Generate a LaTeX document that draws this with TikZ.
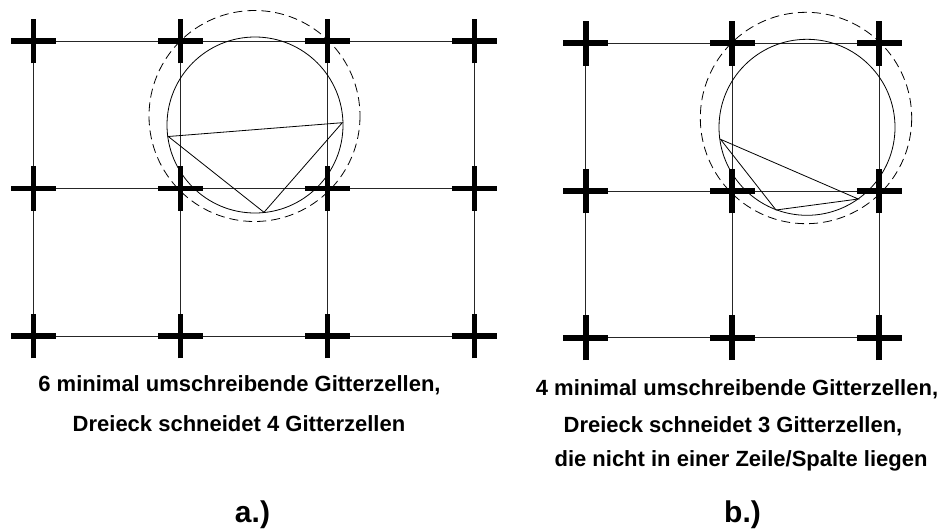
\documentclass[tikz,border=0pt]{standalone}
\usepackage{fontspec}
\setmainfont{Liberation Sans}
\begin{document}
\begin{tikzpicture}[x=1pt,y=-1pt,
  gridline/.style={line width=0.9pt,black!85},
  arm/.style={line width=5.7pt,black},
  thin/.style={line width=0.8pt,black},
  dashcircle/.style={line width=0.8pt,black,dash pattern=on 9pt off 5pt},
  captiontext/.style={font=\fontsize{22}{26}\selectfont\bfseries,anchor=base,inner sep=0pt},
  lab/.style={font=\fontsize{30}{34}\selectfont\bfseries,anchor=base,inner sep=0pt}]
\useasboundingbox (0,0) rectangle (944,530);
% ---------- panel a coordinates
\foreach \c/\x in {1/33.5,2/180.5,3/327.5,4/474.5}
  \foreach \r/\y in {1/41,2/188.5,3/336}
    \coordinate (a\c\r) at (\x,\y);
% ---------- panel b coordinates
\foreach \c/\x in {1/585.7,2/732.3,3/879.3}
  \foreach \r/\y in {1/43.3,2/191,3/337.7}
    \coordinate (b\c\r) at (\x,\y);
% grid lines a
\foreach \r in {1,2,3} \draw[gridline] (a1\r) -- (a4\r);
\foreach \c in {1,2,3,4} \draw[gridline] (a\c1) -- (a\c3);
% grid lines b
\foreach \r in {1,2,3} \draw[gridline] (b1\r) -- (b3\r);
\foreach \c in {1,2,3} \draw[gridline] (b\c1) -- (b\c3);
% crosses
\foreach \c in {1,2,3,4} \foreach \r in {1,2,3}
  \draw[arm] ([xshift=-22.3pt]a\c\r) -- ([xshift=22.3pt]a\c\r)
             ([yshift=-22.3pt]a\c\r) -- ([yshift=22.3pt]a\c\r);
\foreach \c in {1,2,3} \foreach \r in {1,2,3}
  \draw[arm] ([xshift=-22.3pt]b\c\r) -- ([xshift=22.3pt]b\c\r)
             ([yshift=-22.3pt]b\c\r) -- ([yshift=22.3pt]b\c\r);
% circles and triangle a
\coordinate (ac) at (255,125);
\coordinate (ad) at (254.5,116);
\draw[thin] (ac) circle[radius=88];
\draw[dashcircle] (ad) circle[radius=105.5];
\coordinate (ta1) at (168.3,136.5);
\coordinate (ta2) at (342.3,122.7);
\coordinate (ta3) at (264,212.3);
\draw[thin] (ta1) -- (ta2) -- (ta3) -- cycle;
% circles and triangle b
\coordinate (bc) at (807,127.3);
\coordinate (bd) at (806,118);
\draw[thin] (bc) circle[radius=88];
\draw[dashcircle] (bd) circle[radius=105.7];
\coordinate (tb1) at (720.5,139.3);
\coordinate (tb2) at (776,210);
\coordinate (tb3) at (858.3,199);
\draw[thin] (tb1) -- (tb2) -- (tb3) -- cycle;
% texts
\node[captiontext] (ca1) at (239.5,391) {6 minimal umschreibende Gitterzellen,};
\node[captiontext] (ca2) at (239,431) {Dreieck schneidet 4 Gitterzellen};
\node[lab] (la) at (252.5,522) {a.)};
\node[captiontext] (cb1) at (737,395) {4 minimal umschreibende Gitterzellen,};
\node[captiontext] (cb2) at (733,432) {Dreieck schneidet 3 Gitterzellen,};
\node[captiontext] (cb3) at (741,466) {die nicht in einer Zeile/Spalte liegen};
\node[lab] (lb) at (742.5,522) {b.)};
\end{tikzpicture}
\end{document}
